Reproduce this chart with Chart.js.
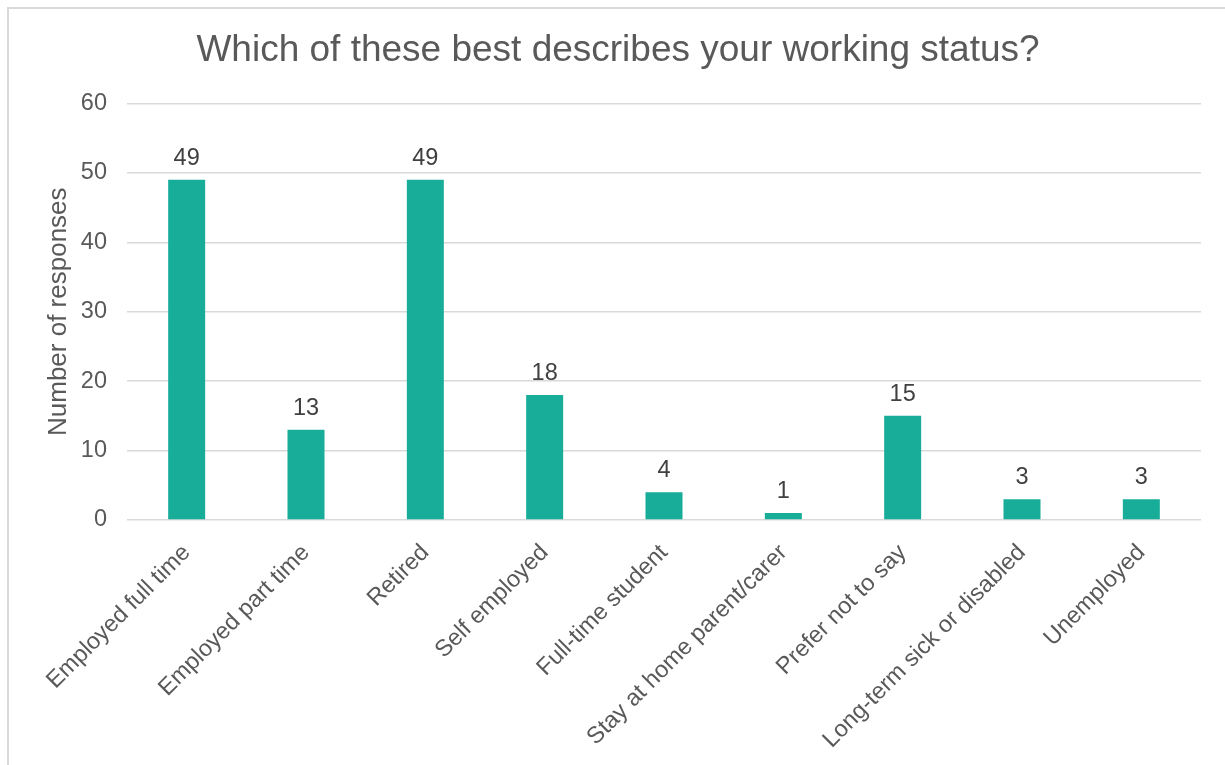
<!DOCTYPE html>
<html>
<head>
<meta charset="utf-8">
<script src="https://cdn.jsdelivr.net/npm/chart.js@4.4.0/dist/chart.umd.min.js"></script>
<style>
  html, body { margin: 0; padding: 0; background: #fff; overflow: hidden; }
  #frame {
    position: absolute; left: 7px; top: 7px; width: 1400px; height: 1000px;
    border-left: 2px solid #d9d9d9; border-top: 2px solid #d9d9d9;
  }
  #wrap { position: absolute; left: 0; top: 0; width: 1225px; height: 765px; }
</style>
</head>
<body>
<div id="frame"></div>
<div id="wrap"><canvas id="workChart" width="1225" height="765"></canvas></div>
<script>
// chart data
const categories = [
  "Employed full time",
  "Employed part time",
  "Retired",
  "Self employed",
  "Full-time student",
  "Stay at home parent/carer",
  "Prefer not to say",
  "Long-term sick or disabled",
  "Unemployed",
];
const responses = [49, 13, 49, 18, 4, 1, 15, 3, 3];
const yTicks = [0, 10, 20, 30, 40, 50, 60];

const FONT = "'Liberation Sans', Arial, sans-serif";

// draws the number above each bar
const valueLabels = {
  id: "valueLabels",
  afterDatasetsDraw(chart) {
    const ctx = chart.ctx;
    const meta = chart.getDatasetMeta(0);
    ctx.save();
    ctx.font = "23.5px " + FONT;
    ctx.fillStyle = "#404040";
    ctx.textAlign = "center";
    ctx.textBaseline = "alphabetic";
    meta.data.forEach((bar, i) => {
      ctx.fillText(String(responses[i]), bar.x, bar.y - 15);
    });
    ctx.restore();
  },
};

const ctx = document.getElementById("workChart").getContext("2d");
new Chart(ctx, {
  type: "bar",
  data: {
    labels: categories,
    datasets: [
      {
        data: responses,
        backgroundColor: "#17AD99",
        borderWidth: 0,
        barPercentage: 0.31,
        categoryPercentage: 1,
      },
    ],
  },
  options: {
    responsive: false,
    animation: false,
    layout: { padding: { left: 35, right: 24, top: 8, bottom: 0 } },
    plugins: {
      legend: { display: false },
      tooltip: { enabled: false },
      title: {
        display: true,
        text: "Which of these best describes your working status?",
        color: "#595959",
        font: { family: FONT, size: 37, weight: "normal" },
        padding: { top: 21, bottom: 30 },
      },
    },
    scales: {
      x: {
        grid: { display: false },
        border: { display: false },
        ticks: {
          color: "#595959",
          font: { family: FONT, size: 23.5 },
          maxRotation: 45,
          minRotation: 45,
          padding: 11,
          autoSkip: false,
        },
        afterFit(scale) { scale.height = 245; },
      },
      y: {
        min: 0,
        max: 60,
        afterBuildTicks(scale) { scale.ticks = yTicks.map((v) => ({ value: v })); },
        grid: { color: "#d9d9d9", lineWidth: 1.5, drawTicks: false },
        border: { display: false },
        ticks: {
          color: "#595959",
          font: { family: FONT, size: 23.5 },
          padding: 20,
        },
        title: {
          display: true,
          text: "Number of responses",
          color: "#595959",
          font: { family: FONT, size: 26 },
          padding: { top: 8, bottom: 0 },
        },
        afterFit(scale) { scale.width = 92; },
      },
    },
  },
  plugins: [valueLabels],
});
</script>
</body>
</html>
